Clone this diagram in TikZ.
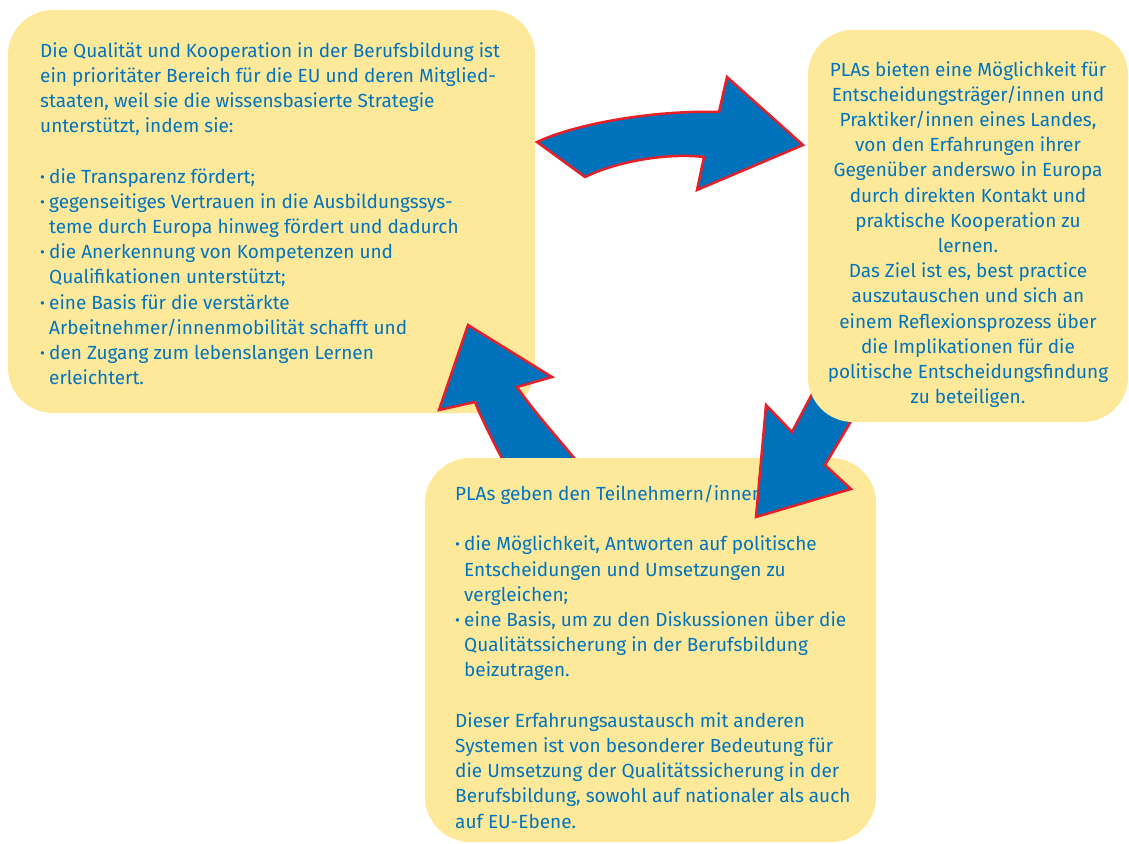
\documentclass[tikz,border=0pt]{standalone}
\usepackage{fontspec}
\setmainfont{Fira Sans}
\definecolor{boxfill}{RGB}{254,233,155}
\definecolor{arrowblue}{RGB}{0,114,188}
\definecolor{arrowred}{RGB}{232,30,40}
\definecolor{textblue}{RGB}{0,116,190}
% bullet with hanging indent for list lines
\newcommand\bul{\makebox[9pt][l]{\raisebox{1pt}{\fontsize{15}{15}\selectfont\textbullet}}}
\newcommand\ind{\hspace*{9pt}}
\begin{document}
\begin{tikzpicture}[x=1pt,y=-1pt,
  panel/.style={fill=boxfill, rounded corners=45pt},
  bluearrow/.style={fill=arrowblue, draw=arrowred, line width=2.5pt, line join=miter},
  boxtext/.style={text=textblue, font=\fontsize{19}{25.2}\selectfont, inner sep=0pt}]
\useasboundingbox (0,0) rectangle (1129,843);

% left panel
\fill[panel] (8,10) rectangle (535,413);
\node[boxtext, anchor=north west, align=left] (quality) at (40,42) {%
Die Qualität und Kooperation in der Berufsbildung ist\\
ein prioritäter Bereich für die EU und deren Mitglied-\\
staaten, weil sie die wissensbasierte Strategie\\
unterstützt, indem sie:\\[25.2pt]
\bul die Transparenz fördert;\\
\bul gegenseitiges Vertrauen in die Ausbildungssys-\\
\ind teme durch Europa hinweg fördert und dadurch\\
\bul die Anerkennung von Kompetenzen und\\
\ind Qualifikationen unterstützt;\\
\bul eine Basis für die verstärkte\\
\ind Arbeitnehmer/innenmobilität schafft und\\
\bul den Zugang zum lebenslangen Lernen\\
\ind erleichtert.};

% arrow from the left panel to the right panel
\draw[bluearrow] (537,142) .. controls (580,122) and (660,110) .. (719,112)
  -- (727,77) -- (803,145) -- (697,190) -- (704,157)
  .. controls (670,153) and (620,160) .. (585,177) -- cycle;

% arrow from the bottom panel back to the left panel
\draw[bluearrow] (590,478) .. controls (565,445) and (540,420) .. (517,387)
  -- (552,377) -- (468,325) -- (439,410) -- (475,402)
  .. controls (482,420) and (495,445) .. (512,478) -- cycle;

% bottom panel
\fill[panel] (425,458) rectangle (876,842);
\node[boxtext, anchor=north west, align=left] (exchange) at (455,485) {%
PLAs geben den Teilnehmern/innen\\[25.2pt]
\bul die Möglichkeit, Antworten auf politische\\
\ind Entscheidungen und Umsetzungen zu\\
\ind vergleichen;\\
\bul eine Basis, um zu den Diskussionen über die\\
\ind Qualitätssicherung in der Berufsbildung\\
\ind beizutragen.\\[25.2pt]
Dieser Erfahrungsaustausch mit anderen\\
Systemen ist von besonderer Bedeutung für\\
die Umsetzung der Qualitätssicherung in der\\
Berufsbildung, sowohl auf nationaler als auch\\
auf EU-Ebene.};

% arrow from the right panel down to the bottom panel
\draw[bluearrow] (830,360) -- (792,432) -- (766,405) -- (756,517)
  -- (851,489) -- (825,465) -- (850,423) -- (872,385) -- cycle;

% right panel
\fill[panel] (808,30) rectangle (1128,422);
\node[boxtext, anchor=north, align=center] (pla) at (968,61) {%
PLAs bieten eine Möglichkeit für\\
Entscheidungsträger/innen und\\
Praktiker/innen eines Landes,\\
von den Erfahrungen ihrer\\
Gegenüber anderswo in Europa\\
durch direkten Kontakt und\\
praktische Kooperation zu\\
lernen.\\
Das Ziel ist es, best practice\\
auszutauschen und sich an\\
einem Reflexionsprozess über\\
die Implikationen für die\\
politische Entscheidungsfindung\\
zu beteiligen.};
\end{tikzpicture}
\end{document}
